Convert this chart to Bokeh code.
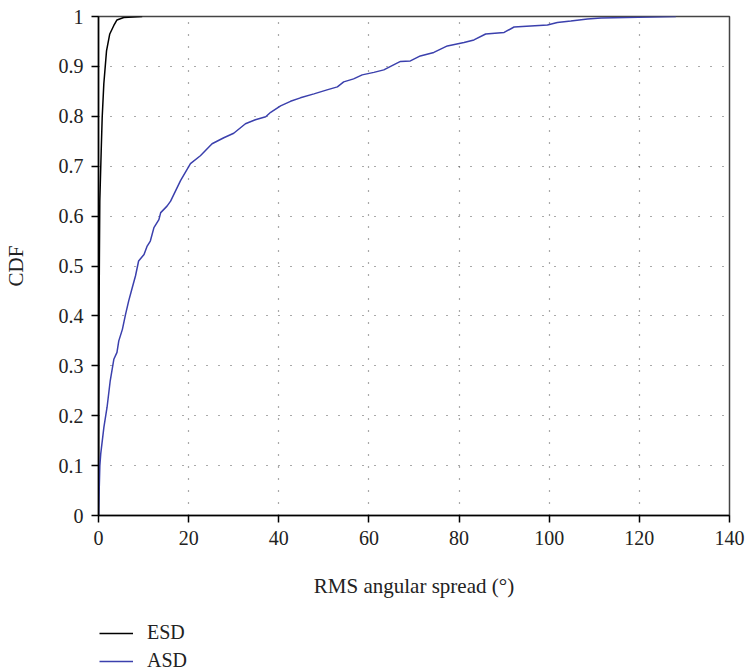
from bokeh.plotting import figure
from bokeh.layouts import column
from bokeh.models import Legend, LegendItem, FixedTicker, NumeralTickFormatter, Range1d
from bokeh.embed import file_html
from bokeh.resources import INLINE

asd_x = [0, 0.3, 0.5, 1.2, 1.9, 2.6, 3.4, 4.1, 4.5, 5.3, 6.0, 6.7, 7.5, 8.2, 8.9,
         10.1, 10.8, 11.5, 12.3, 13.4, 13.8, 15.2, 16.0, 18.2, 20.4, 22.6, 25.2,
         27.8, 30.0, 32.6, 34.8, 37.1, 38.2, 40.4, 42.6, 44.8, 47.8, 50.7, 53.0,
         54.4, 56.6, 58.5, 61.1, 63.3, 65.9, 67.0, 69.2, 71.4, 74.4, 77.4, 81.1,
         83.3, 85.9, 90.0, 92.2, 99.6, 101.8, 104.8, 108.5, 111.5, 122.6, 128.1]
asd_cdf = [0, 0.10, 0.124, 0.177, 0.217, 0.27, 0.313, 0.327, 0.35, 0.373, 0.403,
           0.43, 0.457, 0.48, 0.51, 0.523, 0.54, 0.55, 0.577, 0.593, 0.607, 0.62,
           0.63, 0.671, 0.705, 0.721, 0.745, 0.757, 0.766, 0.785, 0.793, 0.799,
           0.808, 0.821, 0.830, 0.837, 0.845, 0.853, 0.859, 0.869, 0.875, 0.883,
           0.888, 0.893, 0.905, 0.910, 0.911, 0.921, 0.928, 0.941, 0.948, 0.953,
           0.965, 0.968, 0.979, 0.983, 0.988, 0.991, 0.995, 0.997, 0.999, 1.0]

# ESD empirical CDF
esd_x = [0, 0.05, 0.12, 0.2, 0.29, 0.6, 0.82, 1.18, 1.78, 2.5, 3.4, 4.1, 5.6, 9.7]
esd_cdf = [0, 0.2, 0.4, 0.52, 0.63, 0.731, 0.798, 0.865, 0.931, 0.965, 0.982,
           0.993, 0.998, 1.0]

x_ticks = [0, 20, 40, 60, 80, 100, 120, 140]
y_ticks = [0, 0.1, 0.2, 0.3, 0.4, 0.5, 0.6, 0.7, 0.8, 0.9, 1.0]
series_names = ["ESD", "ASD"]
series_colors = ["black", "#3b40ad"]
series_x = [esd_x, asd_x]
series_y = [esd_cdf, asd_cdf]

FONT = "Liberation Serif"
TXT = "#222222"

p = figure(width=746, height=612, output_backend="svg", toolbar_location=None,
           x_range=Range1d(0, 140), y_range=Range1d(0, 1),
           min_border_left=98, min_border_right=17, min_border_top=16,
           min_border_bottom=97)
p.background_fill_color = "white"
p.border_fill_color = "white"
p.outline_line_color = "#444444"
p.outline_line_width = 1.5

for ax in (p.xaxis[0], p.yaxis[0]):
    ax.axis_line_color = "black"
    ax.axis_line_width = 1.5
    ax.major_tick_line_color = "black"
    ax.major_tick_line_width = 1.5
    ax.major_tick_out = 7
    ax.major_tick_in = 0
    ax.minor_tick_line_color = None
    ax.major_label_text_font = FONT
    ax.major_label_text_font_size = "20px"
    ax.major_label_text_color = TXT
    ax.axis_label_text_font = FONT
    ax.axis_label_text_font_size = "21px"
    ax.axis_label_text_font_style = "normal"
    ax.axis_label_text_color = TXT

p.xaxis.ticker = FixedTicker(ticks=x_ticks)
p.yaxis.ticker = FixedTicker(ticks=y_ticks)
p.yaxis.formatter = NumeralTickFormatter(format="0.[0]")
p.xaxis.axis_label = "RMS angular spread (°)"
p.yaxis.axis_label = "CDF"
p.xaxis.major_label_standoff = 8
p.yaxis.major_label_standoff = 8
p.xaxis.axis_label_standoff = 26
p.yaxis.axis_label_standoff = 28

for g in (p.xgrid[0], p.ygrid[0]):
    g.grid_line_color = "#555555"
    g.grid_line_width = 1.2
    g.grid_line_dash = "1 11"

for xs, ys, col in zip(series_x, series_y, series_colors):
    p.line(xs, ys, line_color=col, line_width=1.5)

# Legend panel below the chart (its lines are drawn out of view; only the
# legend entries are visible)
p2 = figure(width=746, height=59, output_backend="svg", toolbar_location=None,
            x_range=Range1d(1000, 1001), y_range=Range1d(1000, 1001),
            x_axis_location=None, y_axis_location=None,
            min_border_left=0, min_border_right=0, min_border_top=0,
            min_border_bottom=0)
p2.xgrid.visible = False
p2.ygrid.visible = False
p2.outline_line_color = None
p2.background_fill_color = "white"
p2.border_fill_color = "white"

items = []
for name, xs, ys, col in zip(series_names, series_x, series_y, series_colors):
    r = p2.line(xs, ys, line_color=col, line_width=1.5)
    items.append(LegendItem(label=name, renderers=[r]))

legend = Legend(items=items, location=(1, -1), orientation="vertical")
legend.label_text_font = FONT
legend.label_text_font_size = "20px"
legend.label_text_color = TXT
legend.glyph_width = 34
legend.glyph_height = 18
legend.label_height = 18
legend.label_standoff = 14
legend.spacing = 5
legend.padding = 0
legend.margin = 0
legend.border_line_color = None
legend.background_fill_alpha = 0
p2.add_layout(legend, "center")

layout = column(p, p2, spacing=0)
open("out.html", "w").write(file_html(layout, INLINE))
